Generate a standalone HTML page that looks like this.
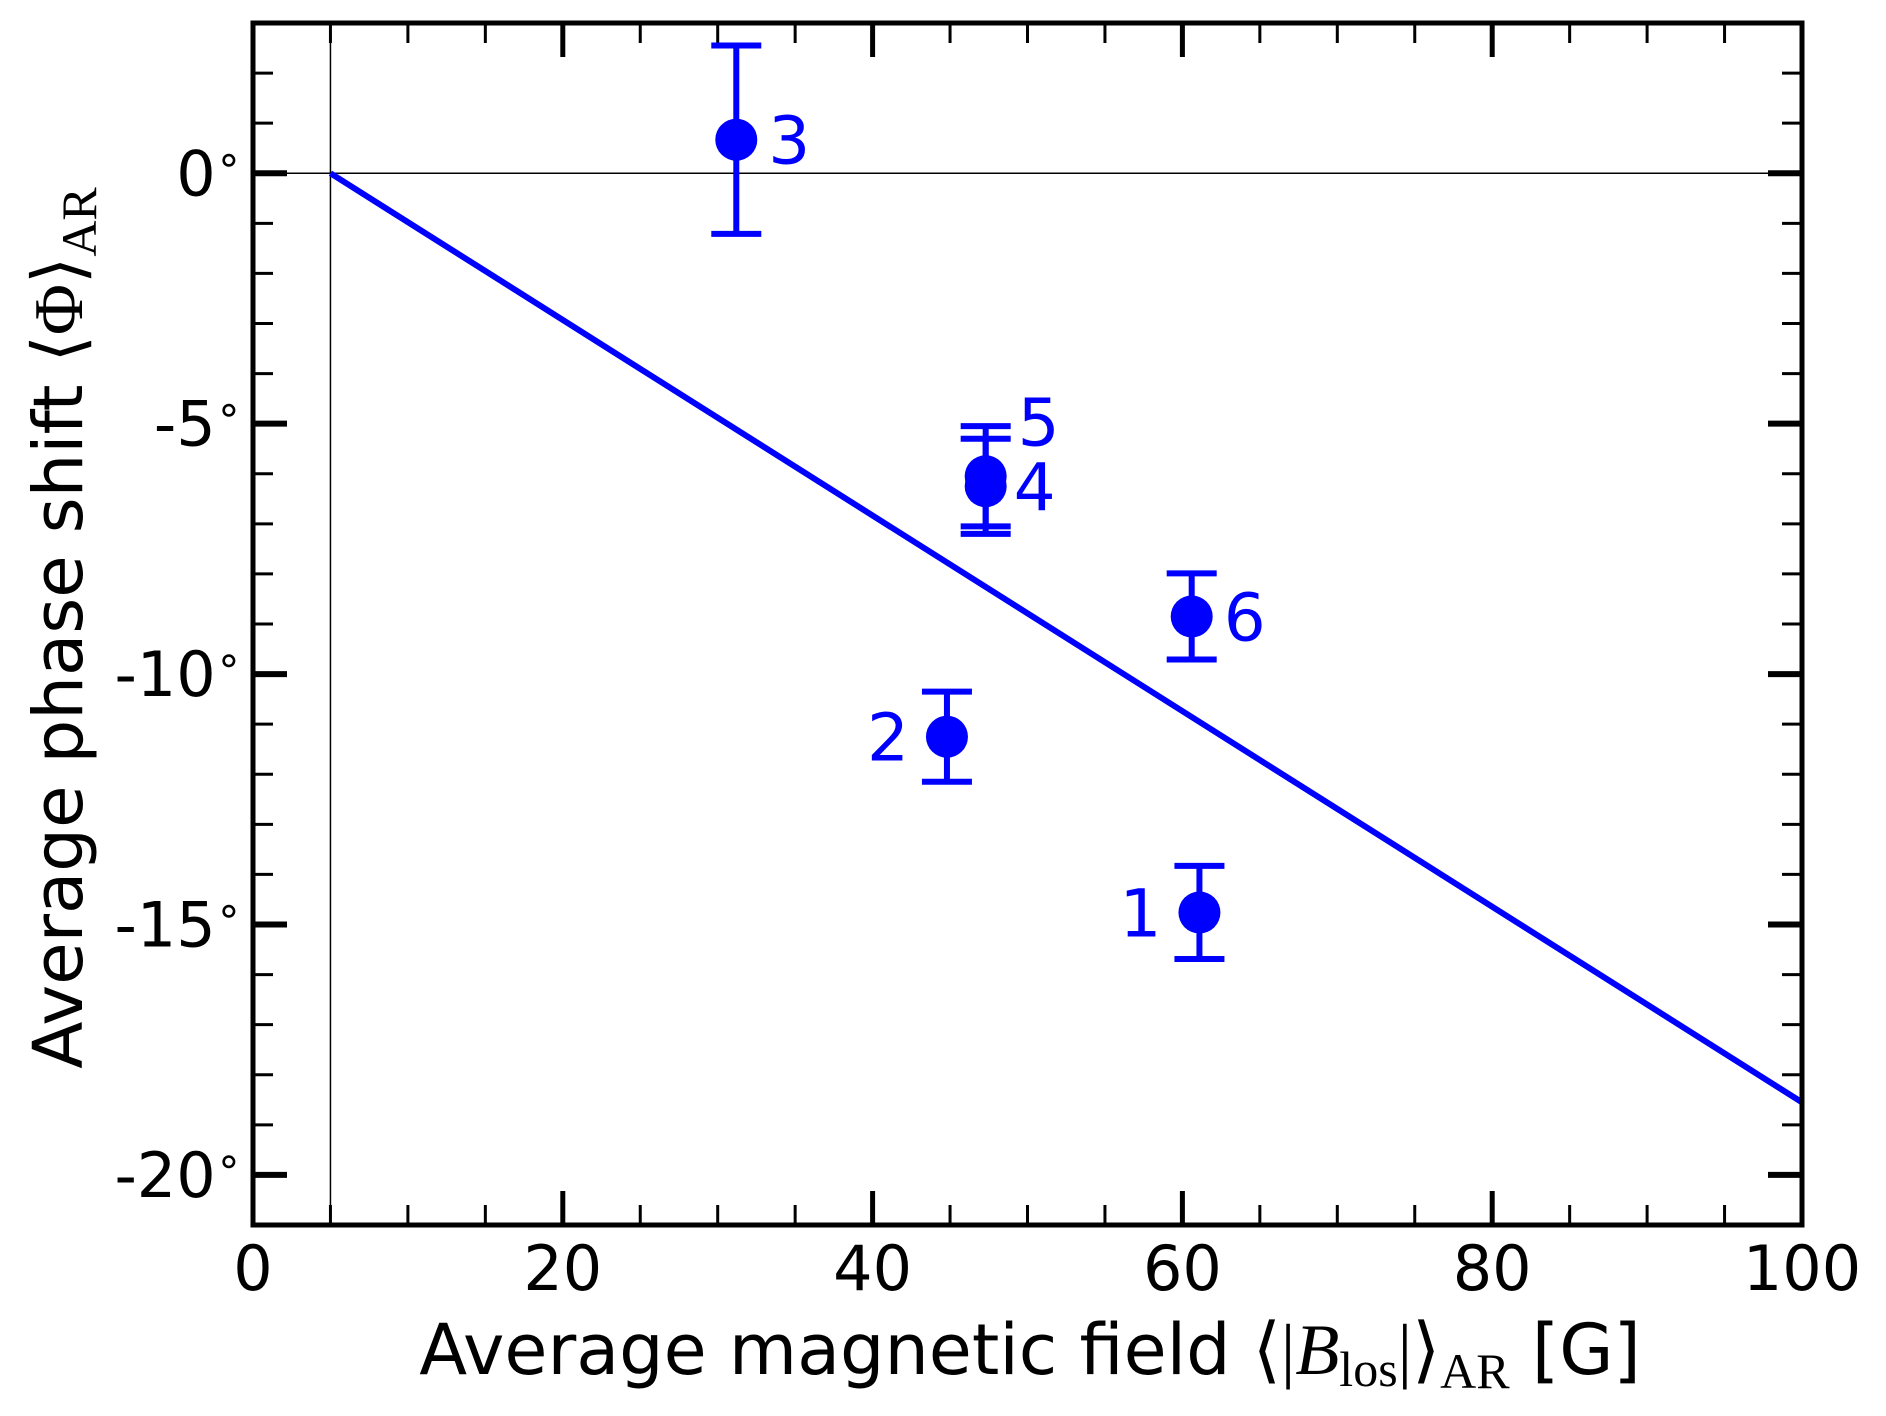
<!DOCTYPE html>
<html><head><meta charset="utf-8"><style>
html,body{margin:0;padding:0;background:#fff;}
svg{display:block;font-family:"DejaVu Sans","Liberation Sans",sans-serif;}
</style></head><body>
<svg id="chart" width="1886" height="1416" viewBox="0 0 1886 1416" xmlns="http://www.w3.org/2000/svg">
<g id="plot"></g>
<text x="1030" y="1374" font-size="70" text-anchor="middle">Average magnetic field <tspan font-family="Liberation Serif,serif" font-size="72">⟨|</tspan><tspan font-family="Liberation Serif,serif" font-style="italic" font-size="72">B</tspan><tspan font-family="Liberation Serif,serif" font-size="50" dy="12">los</tspan><tspan font-family="Liberation Serif,serif" font-size="72" dy="-12">|⟩</tspan><tspan font-family="Liberation Serif,serif" font-size="50" dy="14">AR</tspan><tspan dy="-14"> [G]</tspan></text>
<text transform="translate(82,628) rotate(-90)" font-size="69" text-anchor="middle">Average phase shift <tspan font-family="Liberation Serif,serif" font-size="70">⟨Φ⟩</tspan><tspan font-family="Liberation Serif,serif" font-size="50" dy="14">AR</tspan></text>
</svg>
<script>
const regionLabels = ['1','2','3','5','4','6'];
const fieldValues = [61.1, 44.8, 31.2, 47.3, 47.3, 60.6];
const phaseValues = [-14.76, -11.25, 0.67, -6.05, -6.25, -8.85];
const phaseErrors = [0.93, 0.9, 1.88, 1.0, 0.95, 0.86];
const fitX = [5, 100];
const fitY = [0, -18.55];
const xTicks = [0, 20, 40, 60, 80, 100];
const yTicks = [0, -5, -10, -15, -20];
const xDomain = [0, 100];
const yDomain = [-21, 3];

const L = 253, R = 1802, T = 23, B = 1225;
const sx = v => L + (v - xDomain[0]) / (xDomain[1] - xDomain[0]) * (R - L);
const sy = v => B - (v - yDomain[0]) / (yDomain[1] - yDomain[0]) * (B - T);
const NS = 'http://www.w3.org/2000/svg';
const g = document.getElementById('plot');
function mk(tag, attrs, parent) {
  const e = document.createElementNS(NS, tag);
  for (const k in attrs) e.setAttribute(k, attrs[k]);
  (parent || g).appendChild(e);
  return e;
}
let e = mk('line', {x1: sx(5), x2: sx(5), y1: T, y2: B, stroke: '#000', 'stroke-width': 1.5});


e = mk('line', {x1: L, x2: R, y1: sy(0), y2: sy(0), stroke: '#000', 'stroke-width': 1.5});


for (let v = xDomain[0]; v <= xDomain[1]; v += 5) {
  const major = v % 20 === 0;
  const len = major ? 34 : 20, w = major ? 5 : 3;
  e = mk('line', {x1: sx(v), x2: sx(v), y1: B, y2: B - len, stroke: '#000', 'stroke-width': w});
  
  
  mk('line', {x1: sx(v), x2: sx(v), y1: T, y2: T + len, stroke: '#000', 'stroke-width': w});
}
for (let v = -21; v <= 3; v += 1) {
  const major = v % 5 === 0;
  const len = major ? 34 : 20, w = major ? 6 : 3;
  e = mk('line', {x1: L, x2: L + len, y1: sy(v), y2: sy(v), stroke: '#000', 'stroke-width': w});
  
  
  mk('line', {x1: R, x2: R - len, y1: sy(v), y2: sy(v), stroke: '#000', 'stroke-width': w});
}
xTicks.forEach(v => {
  const t = mk('text', {x: sx(v), y: 1290, 'font-size': 62, 'text-anchor': 'middle'});
  t.textContent = String(v);
  
  
});
yTicks.forEach(v => {
  const t = mk('text', {x: 242, y: sy(v) + 22, 'font-size': 62, 'text-anchor': 'end'});
  
  
  const a = document.createElementNS(NS, 'tspan'); a.textContent = String(v); t.appendChild(a);
  const b = document.createElementNS(NS, 'tspan'); b.setAttribute('font-size', 42); b.setAttribute('dy', -22); b.textContent = '∘'; t.appendChild(b);
});
e = mk('line', {x1: sx(fitX[0]), y1: sy(fitY[0]), x2: sx(fitX[1]), y2: sy(fitY[1]), stroke: '#0000ff', 'stroke-width': 6});


const labelOffsets = {'1': [-38, 0, 'end'], '2': [-38, 0, 'end'], '3': [32, 0, 'start'], '4': [28, 0, 'start'], '5': [32, -55, 'start'], '6': [32, 0, 'start']};
fieldValues.forEach((x, i) => {
  const cx = sx(x), cy = sy(phaseValues[i]);
  const yt = sy(phaseValues[i] + phaseErrors[i]), yb = sy(phaseValues[i] - phaseErrors[i]);
  let el = mk('line', {x1: cx, x2: cx, y1: yt, y2: yb, stroke: '#0000ff', 'stroke-width': 6});
  
  
  mk('line', {x1: cx - 25, x2: cx + 25, y1: yt, y2: yt, stroke: '#0000ff', 'stroke-width': 6});
  mk('line', {x1: cx - 25, x2: cx + 25, y1: yb, y2: yb, stroke: '#0000ff', 'stroke-width': 6});
  el = mk('circle', {cx: cx, cy: cy, r: 21, fill: '#0000ff'});
  
  
  const o = labelOffsets[regionLabels[i]] || [32, 0, 'start'];
  el = mk('text', {x: cx + o[0], y: cy + o[1] + 24, 'font-size': 66, fill: '#0000ff', 'text-anchor': o[2]});
  el.textContent = regionLabels[i];
  
  
});
e = mk('rect', {x: L, y: T, width: R - L, height: B - T, fill: 'none', stroke: '#000', 'stroke-width': 5});


</script>
</body></html>
